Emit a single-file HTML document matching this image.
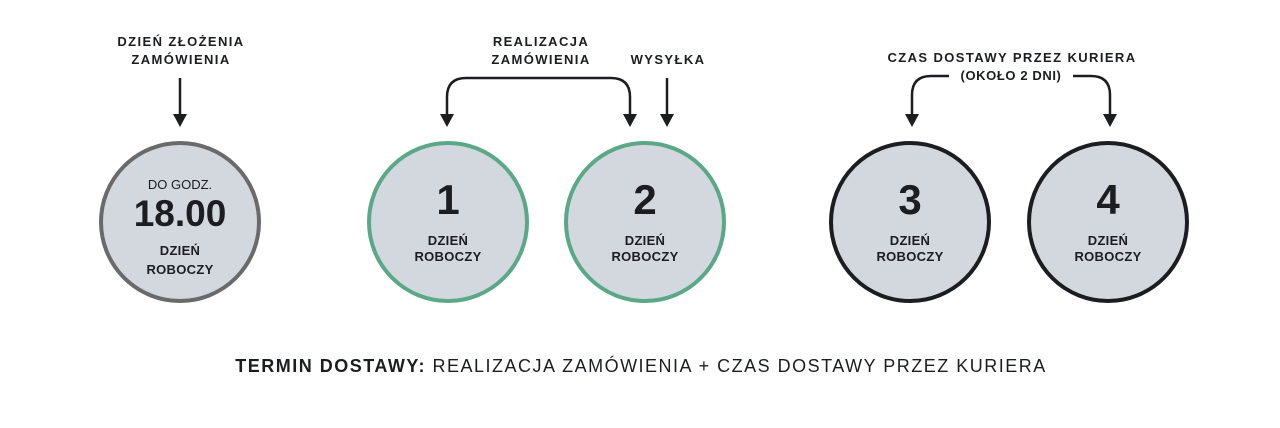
<!DOCTYPE html>
<html><head><meta charset="utf-8"><style>
body{margin:0;background:#fff;}
svg text{font-family:"Liberation Sans",sans-serif;fill:#1b1d21;text-anchor:middle;}
</style></head><body>
<svg width="1280" height="423" viewBox="0 0 1280 423" xmlns="http://www.w3.org/2000/svg">
<g font-size="13" font-weight="bold" letter-spacing="1.4">
<text x="181" y="46">DZIEŃ ZŁOŻENIA</text>
<text x="181" y="64">ZAMÓWIENIA</text>
<text x="541" y="46">REALIZACJA</text>
<text x="541" y="64">ZAMÓWIENIA</text>
<text x="668" y="64">WYSYŁKA</text>
<text x="1012" y="62">CZAS DOSTAWY PRZEZ KURIERA</text>
<text x="1011" y="80" letter-spacing="0.6">(OKOŁO 2 DNI)</text>
</g>
<g stroke="#1b1d21" stroke-width="2.5" fill="none">
<path d="M180,78 V118"/>
<path d="M447,118 V97 Q447,78 466,78 H611 Q630,78 630,97 V118"/>
<path d="M667,78 V118"/>
<path d="M949,76 H931 Q912,76 912,95 V118"/>
<path d="M1073,76 H1091 Q1110,76 1110,95 V118"/>
</g>
<g fill="#1b1d21">
<path d="M173,114 L187,114 L180,127 Z"/>
<path d="M440,114 L454,114 L447,127 Z"/>
<path d="M623,114 L637,114 L630,127 Z"/>
<path d="M660,114 L674,114 L667,127 Z"/>
<path d="M905,114 L919,114 L912,127 Z"/>
<path d="M1103,114 L1117,114 L1110,127 Z"/>
</g>
<g fill="#d3d7de" stroke-width="4">
<circle cx="180" cy="222" r="79" stroke="#6a6a6a"/>
<circle cx="448" cy="222" r="79" stroke="#5aa886"/>
<circle cx="645" cy="222" r="79" stroke="#5aa886"/>
<circle cx="910" cy="222" r="79" stroke="#1b1d21"/>
<circle cx="1108" cy="222" r="79" stroke="#1b1d21"/>
</g>
<text x="180" y="189" font-size="13">DO GODZ.</text>
<text x="180" y="226" font-size="37" font-weight="bold">18.00</text>
<g font-size="42" font-weight="bold">
<text x="448" y="214">1</text><text x="645" y="214">2</text><text x="910" y="214">3</text><text x="1108" y="214">4</text>
</g>
<g font-size="13" font-weight="bold" letter-spacing="0.3">
<text x="180" y="255">DZIEŃ</text><text x="180" y="274">ROBOCZY</text>
<text x="448" y="245">DZIEŃ</text><text x="448" y="261">ROBOCZY</text>
<text x="645" y="245">DZIEŃ</text><text x="645" y="261">ROBOCZY</text>
<text x="910" y="245">DZIEŃ</text><text x="910" y="261">ROBOCZY</text>
<text x="1108" y="245">DZIEŃ</text><text x="1108" y="261">ROBOCZY</text>
</g>
<text x="641" y="372" font-size="18" letter-spacing="1.5"><tspan font-weight="bold">TERMIN DOSTAWY:</tspan> REALIZACJA ZAMÓWIENIA + CZAS DOSTAWY PRZEZ KURIERA</text>
</svg>
</body></html>
